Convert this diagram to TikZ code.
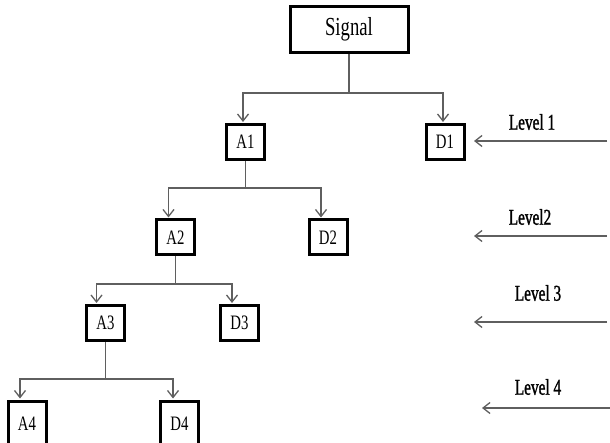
\documentclass[tikz,border=0pt]{standalone}
\usepackage{fontspec}
\usepackage{xcolor}
\usepackage{tikz}
\usetikzlibrary{arrows.meta}

\newfontfamily\narrowserif[FakeStretch=0.72]{Liberation Serif}
\newfontfamily\levelserif[FakeStretch=0.68,FakeBold=1.2]{Liberation Serif}
\definecolor{linegray}{RGB}{95,95,95}

\tikzset{
    coefbox/.style={draw=black, line width=3pt, fill=white, minimum width=38pt, minimum height=35pt,
        inner sep=0pt, font=\narrowserif\fontsize{20.5}{22}\selectfont},
    sigbox/.style={coefbox, minimum width=118pt, minimum height=46pt, font=\narrowserif\fontsize{26}{28}\selectfont},
    conn/.style={draw=linegray, line width=1.4pt},
    arr/.style={conn, -{Straight Barb[length=7pt,width=11pt,line width=1.3pt]}, shorten >=1pt},
    levtext/.style={font=\levelserif\fontsize{22.5}{24}\selectfont}
}

\begin{document}
\begin{tikzpicture}[x=1pt, y=-1pt]
    \useasboundingbox (0,0) rectangle (610,443);

    % Decomposition tree
    \node[sigbox] (signal) at (349,29.5) {Signal};
    \node[coefbox] (A1) at (245.5,142) {A1};
    \node[coefbox] (D1) at (445,142) {D1};
    \node[coefbox] (A2) at (175.5,237.5) {A2};
    \node[coefbox] (D2) at (328,237.5) {D2};
    \node[coefbox] (A3) at (105.5,323) {A3};
    \node[coefbox] (D3) at (239.5,323) {D3};
    \node[coefbox, minimum height=46pt] (A4) at (27,424) {A4};
    \node[coefbox, minimum height=46pt] (D4) at (179.5,424) {D4};

    % branch points
    \coordinate (j0) at (349,93);
    \coordinate (j1) at (246,188);
    \coordinate (j2) at (176,284);
    \coordinate (j3) at (106,379);

    \draw[conn] (signal.south) -- (signal.south |- j0);
    \draw[arr] (j0) -| ([xshift=-2.5pt]A1.north);
    \draw[arr] (j0) -| ([xshift=-2pt]D1.north);

    \draw[conn] (A1.south) -- (A1.south |- j1);
    \draw[arr] (j1) -| ([xshift=-7pt]A2.north);
    \draw[arr] (j1) -| ([xshift=-7pt]D2.north);

    \draw[conn] (A2.south) -- (A2.south |- j2);
    \draw[arr] (j2) -| ([xshift=-9pt]A3.north);
    \draw[arr] (j2) -| ([xshift=-7.5pt]D3.north);

    \draw[conn] (A3.south) -- (A3.south |- j3);
    \draw[arr] (j3) -| ([xshift=-7pt]A4.north);
    \draw[arr] (j3) -| ([xshift=-6.5pt]D4.north);

    % Level markers on the right
    \node[levtext] (lev1) at (532,122) {Level 1};
    \node[levtext] (lev2) at (530,217) {Level2};
    \node[levtext] (lev3) at (538,293) {Level 3};
    \node[levtext] (lev4) at (538,387) {Level 4};

    \coordinate (r1) at (607,141);  \coordinate (t1) at (473,141);
    \coordinate (r2) at (607,236);  \coordinate (t2) at (473,236);
    \coordinate (r3) at (607,322);  \coordinate (t3) at (473,322);
    \coordinate (r4) at (610,408);  \coordinate (t4) at (481,408);

    \draw[arr] (r1) -- (t1);
    \draw[arr] (r2) -- (t2);
    \draw[arr] (r3) -- (t3);
    \draw[arr] (r4) -- (t4);
\end{tikzpicture}
\end{document}
